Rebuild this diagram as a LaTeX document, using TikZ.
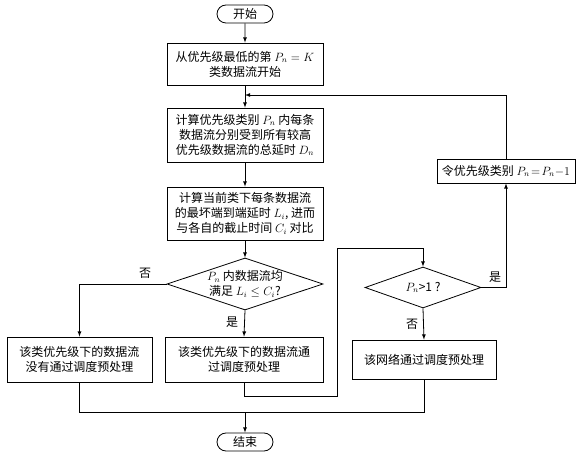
\documentclass[tikz,border=0pt]{standalone}
\usepackage{amsmath}
\usepackage{amssymb}
\usepackage{fontspec}
\newfontfamily\cjk{Noto Sans CJK SC}
\usetikzlibrary{arrows}
\usepgflibrary{shapes}

\begin{document}
\begin{tikzpicture}[x=1pt,y=-1pt,>=latex,line width=0.8pt,
		every node/.style={font=\fontsize{12}{15}\selectfont\cjk}]
		\tikzstyle{BoxStyle}=[draw,rectangle,align=center,inner sep=0pt]
		\tikzstyle{EndStyle}=[draw,rounded rectangle,minimum width=56pt,minimum height=18pt,inner sep=0pt]
		\tikzstyle{DecStyle}=[draw,diamond,inner sep=0pt]
		\tikzstyle{LabelStyle}=[inner sep=1pt]
		\useasboundingbox (0,0) rectangle (579,457);
		\node[EndStyle] (start) at (245,14) {开始};
		\node[BoxStyle,minimum width=156pt,minimum height=42pt] (init) at (245,64)
			{从优先级最低的第 $P_n=K$\\类数据流开始};
		\node[BoxStyle,minimum width=156pt,minimum height=54pt] (delay) at (245,135)
			{计算优先级类别 $P_n$ 内每条\\数据流分别受到所有较高\\优先级数据流的总延时 $D_n$};
		\node[BoxStyle,minimum width=156pt,minimum height=53pt] (worst) at (245,213.5)
			{计算当前类下每条数据流\\的最坏端到端延时 $L_i$, 进而\\与各自的截止时间 $C_i$ 对比};
		\node[DecStyle,minimum width=156pt,minimum height=52pt] (check) at (245,284) {};
		\node[align=center] (checktext) at (check) {$P_n$ 内数据流均\\满足 $L_i\leq C_i$?};
		\node[BoxStyle,minimum width=145pt,minimum height=45pt] (fail) at (79.5,359.5)
			{该类优先级下的数据流\\没有通过调度预处理};
		\node[BoxStyle,minimum width=158pt,minimum height=45pt] (pass) at (244,359.5)
			{该类优先级下的数据流通\\过调度预处理};
		\node[DecStyle,minimum width=116pt,minimum height=41pt] (more) at (423,287.5) {};
		\node (moretext) at (more) {$P_n$>1 ?};
		\node[BoxStyle,minimum width=144pt,minimum height=39pt] (done) at (424,359.5)
			{该网络通过调度预处理};
		\node[BoxStyle,minimum width=138pt,minimum height=24pt] (next) at (506,171)
			{令优先级类别 $P_n\!=\!P_n{-}1$};
		\node[EndStyle] (stop) at (245,442) {结束};
		\coordinate (fb) at (245,95);
		\coordinate (turnA) at (337,396);
		\coordinate (turnB) at (337,248);
		\coordinate (merge) at (245,412);
		\draw[->] (start) -- (init);
		\draw[->] (init) -- (delay);
		\draw[->] (delay) -- (worst);
		\draw[->] (worst) -- (check);
		\draw[->] (check.west) -| (fail.north);
		\node[LabelStyle] (no1) at (145,273) {否};
		\draw[->] (check.south) -- (pass.north);
		\node[LabelStyle] (yes1) at (232,322) {是};
		\draw[->] (pass.south) |- (turnA) -- (turnB) -| (more.north);
		\draw[->] (more.east) -| (next.south);
		\node[LabelStyle] (yes2) at (495,277) {是};
		\draw[->] (more.south) -- (done.north);
		\node[LabelStyle] (no2) at (412,324) {否};
		\draw[->] (next.north) |- (fb);
		\draw (fail.south) |- (merge);
		\draw (done.south) |- (merge);
		\draw[->] (merge) -- (stop);
\end{tikzpicture}
\end{document}
